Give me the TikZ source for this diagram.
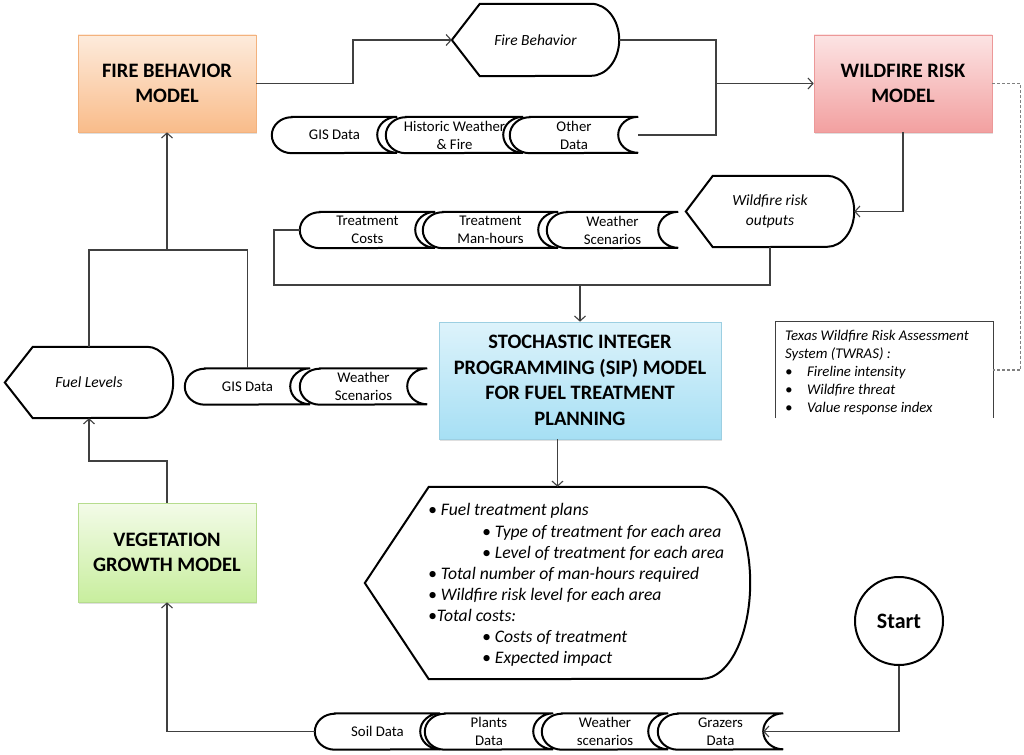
\documentclass[tikz,border=0pt]{standalone}
\usepackage{fontspec}
\setmainfont{Carlito}
\usetikzlibrary{arrows.meta,shadows,backgrounds,calc}
\definecolor{cline}{HTML}{404040}
\definecolor{fbmTop}{HTML}{FDEBDC}
\definecolor{fbmBot}{HTML}{F9BC8A}
\definecolor{fbmBd}{HTML}{F3B27D}
\definecolor{wrmTop}{HTML}{FCE4E4}
\definecolor{wrmBot}{HTML}{F2A0A0}
\definecolor{wrmBd}{HTML}{EC9898}
\definecolor{sipTop}{HTML}{DDF3FB}
\definecolor{sipBot}{HTML}{A6DFF4}
\definecolor{sipBd}{HTML}{9CCFE2}
\definecolor{vgmTop}{HTML}{F3FBE8}
\definecolor{vgmBot}{HTML}{C8EE9E}
\definecolor{vgmBd}{HTML}{B6DC8E}
\newcommand\storedshape[1]{%
  \path[shp] ([xshift=20pt]#1.north west) -- (#1.north east)
    arc[start angle=90,end angle=270,x radius=20pt,y radius=18pt]
    -- ([xshift=20pt]#1.south west)
    arc[start angle=270,end angle=90,x radius=20pt,y radius=18pt] -- cycle;}
\newcommand\dispshape[4]{%
  \path[shp] (#1.west) -- ([xshift=#2]#1.north west) -- ([xshift=-#3]#1.north east)
    arc[start angle=90,end angle=-90,x radius=#3,y radius=#4]
    -- ([xshift=#2]#1.south west) -- cycle;}
\begin{document}
\begin{tikzpicture}[x=1pt,y=-1pt,
  conn/.style={draw=cline, line width=1.1pt},
  arr/.style={conn, -{Straight Barb[length=5pt,width=11pt]}},
  model/.style={rectangle, align=center, inner sep=0pt,
    font=\fontsize{20.5}{25.5}\selectfont\bfseries, text=black, line width=0.6pt,
    drop shadow={opacity=0.25,shadow xshift=1pt,shadow yshift=-2pt}},
  shp/.style={draw=black, line width=2pt, fill=white},
  data/.style={rectangle, inner sep=0pt, minimum height=36pt, align=center,
    font=\fontsize{14.8}{18}\selectfont},
  disp/.style={rectangle, inner sep=0pt, align=center,
    font=\fontsize{15.5}{20}\selectfont\itshape},
]
\useasboundingbox (0,0) rectangle (1024,754);

% model boxes
\node[model, minimum width=178pt, minimum height=97pt, draw=fbmBd,
  top color=fbmTop, bottom color=fbmBot] (fbm) at (167,83.5)
  {FIRE BEHAVIOR\\MODEL};
\node[model, minimum width=178pt, minimum height=97pt, draw=wrmBd,
  top color=wrmTop, bottom color=wrmBot] (wrm) at (903,83.5)
  {WILDFIRE RISK\\MODEL};
\node[model, minimum width=282pt, minimum height=117pt, draw=sipBd,
  top color=sipTop, bottom color=sipBot] (sip) at (580,380.5)
  {STOCHASTIC INTEGER\\PROGRAMMING (SIP) MODEL\\FOR FUEL TREATMENT\\PLANNING};
\node[model, minimum width=178pt, minimum height=99pt, draw=vgmBd,
  top color=vgmTop, bottom color=vgmBot] (vgm) at (167,552.5)
  {VEGETATION\\GROWTH MODEL};

% display shapes
\node[disp, minimum width=167pt, minimum height=72pt] (fb) at (535.5,40) {Fire Behavior};
\node[disp, minimum width=168pt, minimum height=71pt] (wro) at (770,211.5) {Wildfire risk\\outputs};
\node[disp, minimum width=168pt, minimum height=71pt] (fuel) at (89,382.5) {Fuel Levels};
\node[disp, minimum width=385pt, minimum height=192pt] (out) at (557.5,583) {};
\node[anchor=north west, align=left, inner sep=0pt,
  font=\fontsize{17.6}{21.1}\selectfont\itshape] (outtxt) at (428,503.5)
  {• Fuel treatment plans\\
   \hspace*{54pt}• Type of treatment for each area\\
   \hspace*{54pt}• Level of treatment for each area\\
   • Total number of man-hours required\\
   • Wildfire risk level for each area\\
   •Total costs:\\
   \hspace*{54pt}• Costs of treatment\\
   \hspace*{54pt}• Expected impact};

% stored data
\node[data, minimum width=125pt] (gis1) at (334.5,135) {GIS Data};
\node[data, minimum width=137pt] (hist) at (454.5,135) {Historic Weather\\\& Fire};
\node[data, minimum width=128pt] (other) at (574,135) {Other\\Data};
\node[data, minimum width=135pt] (tc) at (367.5,230) {Treatment\\Costs};
\node[data, minimum width=135pt] (mh) at (490.5,230) {Treatment\\Man-hours};
\node[data, minimum width=131pt] (ws2) at (612.5,230) {Weather\\Scenarios};
\node[data, minimum width=125pt] (gis3) at (247.5,386.5) {GIS Data};
\node[data, minimum width=127pt] (ws3) at (363.5,386.5) {Weather\\Scenarios};
\node[data, minimum width=125pt] (soil) at (377.5,731.5) {Soil Data};
\node[data, minimum width=128pt] (plants) at (489,731.5) {Plants\\Data};
\node[data, minimum width=126pt] (wea4) at (605,731.5) {Weather\\scenarios};
\node[data, minimum width=125pt] (graz) at (720.5,731.5) {Grazers\\Data};

% TWRAS box
\node[rectangle, inner sep=0pt, minimum width=217pt, minimum height=96pt] (twras) at (884.5,370) {};
\node[anchor=north west, align=left, inner sep=0pt,
  font=\fontsize{14.8}{18}\selectfont\itshape] (twtxt) at (785,330.5)
  {Texas Wildfire Risk Assessment\\
   System (TWRAS) :\\
   \makebox[22pt][l]{•}Fireline intensity\\
   \makebox[22pt][l]{•}Wildfire threat\\
   \makebox[22pt][l]{•}Value response index};
\draw[line width=1pt, draw=cline] (twras.south west) -- (twras.north west) -- (twras.north east) -- (twras.south east);

% start
\node[circle, draw=black, line width=2pt, minimum size=88pt, inner sep=0pt,
  font=\fontsize{22}{26}\selectfont\bfseries] (start) at (899,621) {Start};

\begin{scope}[on background layer]
  \fill[white] (0,0) rectangle (1024,754);
  \dispshape{fb}{28pt}{28pt}{36pt}
  \dispshape{wro}{27pt}{27pt}{35.5pt}
  \dispshape{fuel}{28pt}{26pt}{35.5pt}
  \dispshape{out}{64pt}{48pt}{96pt}
  \storedshape{gis1}\storedshape{hist}\storedshape{other}
  \storedshape{tc}\storedshape{mh}\storedshape{ws2}
  \storedshape{gis3}\storedshape{ws3}
  \storedshape{soil}\storedshape{plants}\storedshape{wea4}\storedshape{graz}
\end{scope}

% connectors
\coordinate (jn) at (580,285);
\coordinate (jf) at (167,250);
\draw[arr] (fbm.east) -- (353,83.5) |- (fb.west);
\draw[arr] (fb.east) -| (716,83.5) -- (wrm.west);
\draw[conn] (other.east) -| (716,83.5);
\draw[arr] (wrm.south) |- (wro.east);
\draw[conn] (wro.south) -- (770,285) -| (274,230) -- (tc.west);
\draw[arr] (jn) -- (sip.north);
\draw[arr] (sip.south -| out.north) -- (out.north);
\draw[conn] (gis3.north) |- (89,250) -- (fuel.north);
\draw[arr] (jf) -- (fbm.south);
\draw[arr] (vgm.north) |- (89,461) -- (fuel.south);
\draw[arr] (soil.west) -| (vgm.south);
\draw[arr] (start.south) |- ([xshift=-20pt]graz.east);
\draw[conn, draw=gray, dash pattern=on 3pt off 2pt] (wrm.east) -- ++(28,0) |- (twras.east);
\end{tikzpicture}
\end{document}
